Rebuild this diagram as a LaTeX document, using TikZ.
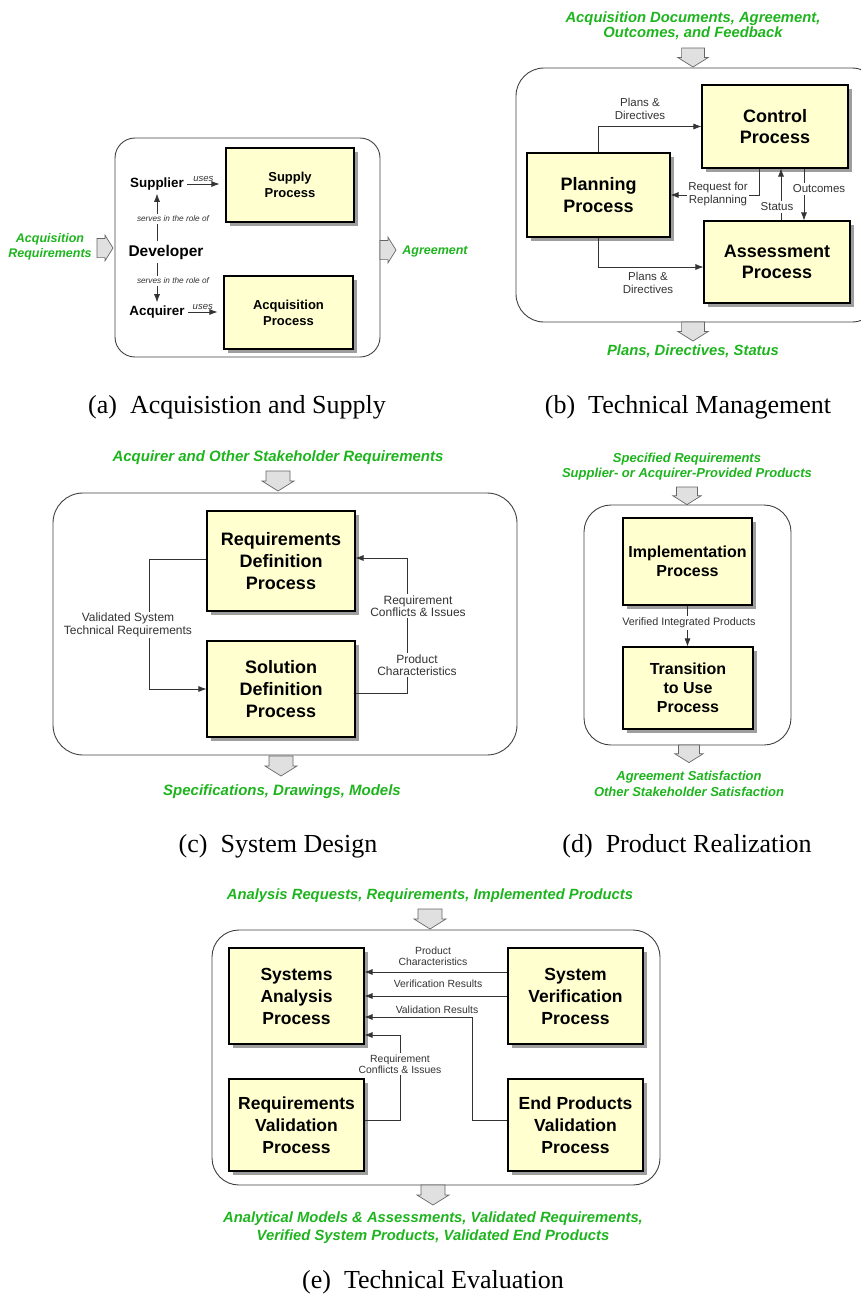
\documentclass[tikz,border=0pt]{standalone}
\usepackage{fontspec}
\setmainfont{Liberation Sans}
\newfontfamily\capfont{Liberation Serif}
\usetikzlibrary{shadows,arrows.meta}
\definecolor{procfill}{RGB}{255,255,208}
\definecolor{iogreen}{RGB}{30,180,30}
\definecolor{notegray}{RGB}{51,51,51}
\newcommand{\fsz}[2]{\fontsize{#1}{#2}\selectfont}
\tikzset{
  proc/.style={draw,line width=1.1pt,fill=procfill,align=center,inner sep=0pt,
    drop shadow={shadow xshift=4pt,shadow yshift=-4pt,fill=black!38,opacity=1}},
  link/.style={-{Latex[length=8pt,width=6pt]},draw=notegray,line width=0.7pt},
  note/.style={text=notegray,align=center,fill=white,inner sep=1.5pt},
  io/.style={text=iogreen,align=center,inner sep=0pt},
  frame/.style={draw=black!75,line width=0.9pt},
  subcap/.style={anchor=base,font=\capfont\fsz{26}{28}},
  pics/flowdown/.style={code={\draw[draw=black!60,fill=black!12,line width=0.7pt]
    (-12,0)--(12,0)--(12,10)--(16,10)--(0,20)--(-16,10)--(-12,10)--cycle;}}
}
\begin{document}
\begin{tikzpicture}[x=1pt,y=-1pt]
\useasboundingbox (0,0) rectangle (861,1299);
% (a) acquisition and supply
\draw[frame,rounded corners=20pt] (115,138) rectangle (380,357);
\node[proc,minimum width=128pt,minimum height=74pt,font=\bfseries\fsz{13}{15.7}] (supply) at (290,185) {Supply\\Process};
\node[proc,minimum width=129pt,minimum height=73pt,font=\bfseries\fsz{13}{15.7}] (acqproc) at (288.5,312.5) {Acquisition\\Process};
\node[font=\bfseries\fsz{13.4}{15}] (supplier) at (157,184) {Supplier};
\node[font=\bfseries\fsz{15.5}{17}] (developer) at (166,252) {Developer};
\node[font=\bfseries\fsz{13.4}{15}] (acquirer) at (157,312) {Acquirer};
\draw[link] (supplier.east) -- node[above,inner sep=2pt,text=notegray,font=\itshape\fsz{9.5}{10}]{uses} ([xshift=-6pt]supply.west |- supplier.east);
\draw[link] (acquirer.east) -- node[above,inner sep=2pt,text=notegray,font=\itshape\fsz{9.5}{10}]{uses} ([xshift=-6pt]acqproc.west |- acquirer.east);
\draw[link] (developer.north -| supplier.south) -- (supplier.south);
\draw[link] (developer.south -| acquirer.north) -- (acquirer.north);
\node[note,font=\itshape\fsz{8.25}{9}] (serveup) at (173,219) {serves in the role of};
\node[note,font=\itshape\fsz{8.25}{9}] (servedown) at (173,281) {serves in the role of};
\pic[rotate=90,scale=0.8] at (97,248) {flowdown};
\pic[rotate=90,scale=0.8] at (380,250) {flowdown};
\node[io,font=\bfseries\itshape\fsz{12.5}{15}] (reqin) at (50,247) {Acquisition\\Requirements};
\node[io,font=\bfseries\itshape\fsz{12.5}{15}] (agree) at (435,251) {Agreement};
\node[subcap] (capa) at (237,413) {(a)\hspace{0.5em}Acquisistion and Supply};
% (b) technical management
\node[io,font=\bfseries\itshape\fsz{14.8}{15.5}] (docs) at (693,26) {Acquisition Documents, Agreement,\\Outcomes, and Feedback};
\pic[scale=0.95] at (693,48) {flowdown};
\draw[frame,rounded corners=28pt] (516,68) rectangle (880,322);
\node[proc,minimum width=146pt,minimum height=83pt,font=\bfseries\fsz{18}{21.7}] (control) at (775,126.5) {Control\\Process};
\node[proc,minimum width=143pt,minimum height=84pt,font=\bfseries\fsz{18}{21.7}] (planning) at (598.5,195) {Planning\\Process};
\node[proc,minimum width=146pt,minimum height=82pt,font=\bfseries\fsz{18}{21.7}] (assess) at (777,262) {Assessment\\Process};
\draw[link] (planning.north) |- (control.west);
\draw[link] (planning.south) |- ([yshift=-5pt]assess.west);
\draw[link] ([xshift=-16pt]control.south) |- (planning.east);
\draw[link] ([xshift=4pt]assess.north) -- ([xshift=4pt]assess.north |- control.south);
\draw[link] ([xshift=29pt]control.south) -- ([xshift=29pt]control.south |- assess.north);
\node[note,fill=none,font=\fsz{11.5}{12.3}] (pdtop) at (640,109) {Plans \&\\Directives};
\node[note,fill=none,font=\fsz{11.5}{12.3}] (pdbot) at (648,283) {Plans \&\\Directives};
\node[note,font=\fsz{11.5}{12.3}] (replan) at (718,194) {Request for\\Replanning};
\node[note,font=\fsz{11.5}{12.3}] (status) at (777,207) {Status};
\node[note,font=\fsz{11.5}{12.3}] (outcomes) at (819,189) {Outcomes};
\pic[scale=0.95] at (693,322) {flowdown};
\node[io,font=\bfseries\itshape\fsz{14.8}{15.5}] (plans) at (693,351) {Plans, Directives, Status};
\node[subcap] (capb) at (688,413) {(b)\hspace{0.5em}Technical Management};
% (c) system design
\node[io,font=\bfseries\itshape\fsz{15}{16}] (stake) at (278,458) {Acquirer and Other Stakeholder Requirements};
\pic at (278,471) {flowdown};
\draw[frame,rounded corners=30pt] (53,493) rectangle (517,755);
\node[proc,minimum width=148pt,minimum height=100pt,font=\bfseries\fsz{18}{22}] (reqdef) at (281,561) {Requirements\\Definition\\Process};
\node[proc,minimum width=148pt,minimum height=96pt,font=\bfseries\fsz{18}{22}] (soldef) at (281,689) {Solution\\Definition\\Process};
\draw[link] ([yshift=2pt]reqdef.west) -- ++(-57,0) |- (soldef.west);
\draw[link] ([yshift=-4pt]soldef.east) -- ++(52,0) |- ([yshift=3pt]reqdef.east);
\node[note,font=\fsz{12}{12.5}] (valreq) at (128,625) {Validated System\\Technical Requirements};
\node[note,font=\fsz{12}{12.5}] (conflict) at (418,606) {Requirement\\Conflicts \& Issues};
\node[note,font=\fsz{12}{12.5}] (prodchar) at (417,665) {Product\\Characteristics};
\pic at (281,756) {flowdown};
\node[io,font=\bfseries\itshape\fsz{15}{16}] (specs) at (282,792) {Specifications, Drawings, Models};
\node[subcap] (capc) at (278,852) {(c)\hspace{0.5em}System Design};
% (d) product realization
\node[io,font=\bfseries\itshape\fsz{13}{15}] (specreq) at (687,466.5) {Specified Requirements\\Supplier- or Acquirer-Provided Products};
\pic[scale=0.88] at (687,487) {flowdown};
\draw[frame,rounded corners=27pt] (584,505) rectangle (791,745);
\node[proc,minimum width=129pt,minimum height=87pt,font=\bfseries\fsz{16}{19}] (impl) at (687.5,561.5) {Implementation\\Process};
\node[proc,minimum width=130pt,minimum height=82pt,font=\bfseries\fsz{16}{19}] (transit) at (688,688) {Transition\\to Use\\Process};
\draw[link] (impl.south) -- (impl.south |- transit.north);
\node[note,font=\fsz{10.8}{11.5}] (verint) at (689,623) {Verified Integrated Products};
\pic[scale=0.88] at (689,745) {flowdown};
\node[io,font=\bfseries\itshape\fsz{13}{15.5}] (satisf) at (689,784) {Agreement Satisfaction\\Other Stakeholder Satisfaction};
\node[subcap] (capd) at (687,852) {(d)\hspace{0.5em}Product Realization};
% (e) technical evaluation
\node[io,font=\bfseries\itshape\fsz{14.8}{18}] (anreq) at (430,896) {Analysis Requests, Requirements, Implemented Products};
\pic at (430,909) {flowdown};
\draw[frame,rounded corners=27pt] (212,930) rectangle (660,1185);
\node[proc,minimum width=135pt,minimum height=96pt,font=\bfseries\fsz{17.5}{22}] (sysana) at (296.5,996) {Systems\\Analysis\\Process};
\node[proc,minimum width=135pt,minimum height=96pt,font=\bfseries\fsz{17.5}{22}] (sysver) at (575.5,996) {System\\Verification\\Process};
\node[proc,minimum width=135pt,minimum height=92pt,font=\bfseries\fsz{17.5}{22}] (reqval) at (296.5,1125) {Requirements\\Validation\\Process};
\node[proc,minimum width=135pt,minimum height=92pt,font=\bfseries\fsz{17.5}{22}] (endval) at (575.5,1125) {End Products\\Validation\\Process};
\draw[link] ([yshift=24pt]sysver.west) -- ([yshift=24pt]sysana.east);
\draw[link] (sysver.west) -- (sysana.east);
\draw[link] ([yshift=5pt]endval.west) -- ++(-35,0) |- ([yshift=-21pt]sysana.east);
\draw[link] ([yshift=5pt]reqval.east) -- ++(36,0) |- ([yshift=-39pt]sysana.east);
\node[note,fill=none,font=\fsz{10.4}{11}] (prodch) at (433,956) {Product\\Characteristics};
\node[note,fill=none,font=\fsz{10.4}{11}] (verres) at (438,984) {Verification Results};
\node[note,fill=none,font=\fsz{10.4}{11}] (valres) at (437,1010) {Validation Results};
\node[note,font=\fsz{10.4}{11}] (rconf) at (400,1064) {Requirement\\Conflicts \& Issues};
\pic at (433,1185) {flowdown};
\node[io,font=\bfseries\itshape\fsz{14.8}{18}] (models) at (433,1228) {Analytical Models \& Assessments, Validated Requirements,\\Verified System Products, Validated End Products};
\node[subcap] (cape) at (433,1288) {(e)\hspace{0.5em}Technical Evaluation};
\end{tikzpicture}
\end{document}
